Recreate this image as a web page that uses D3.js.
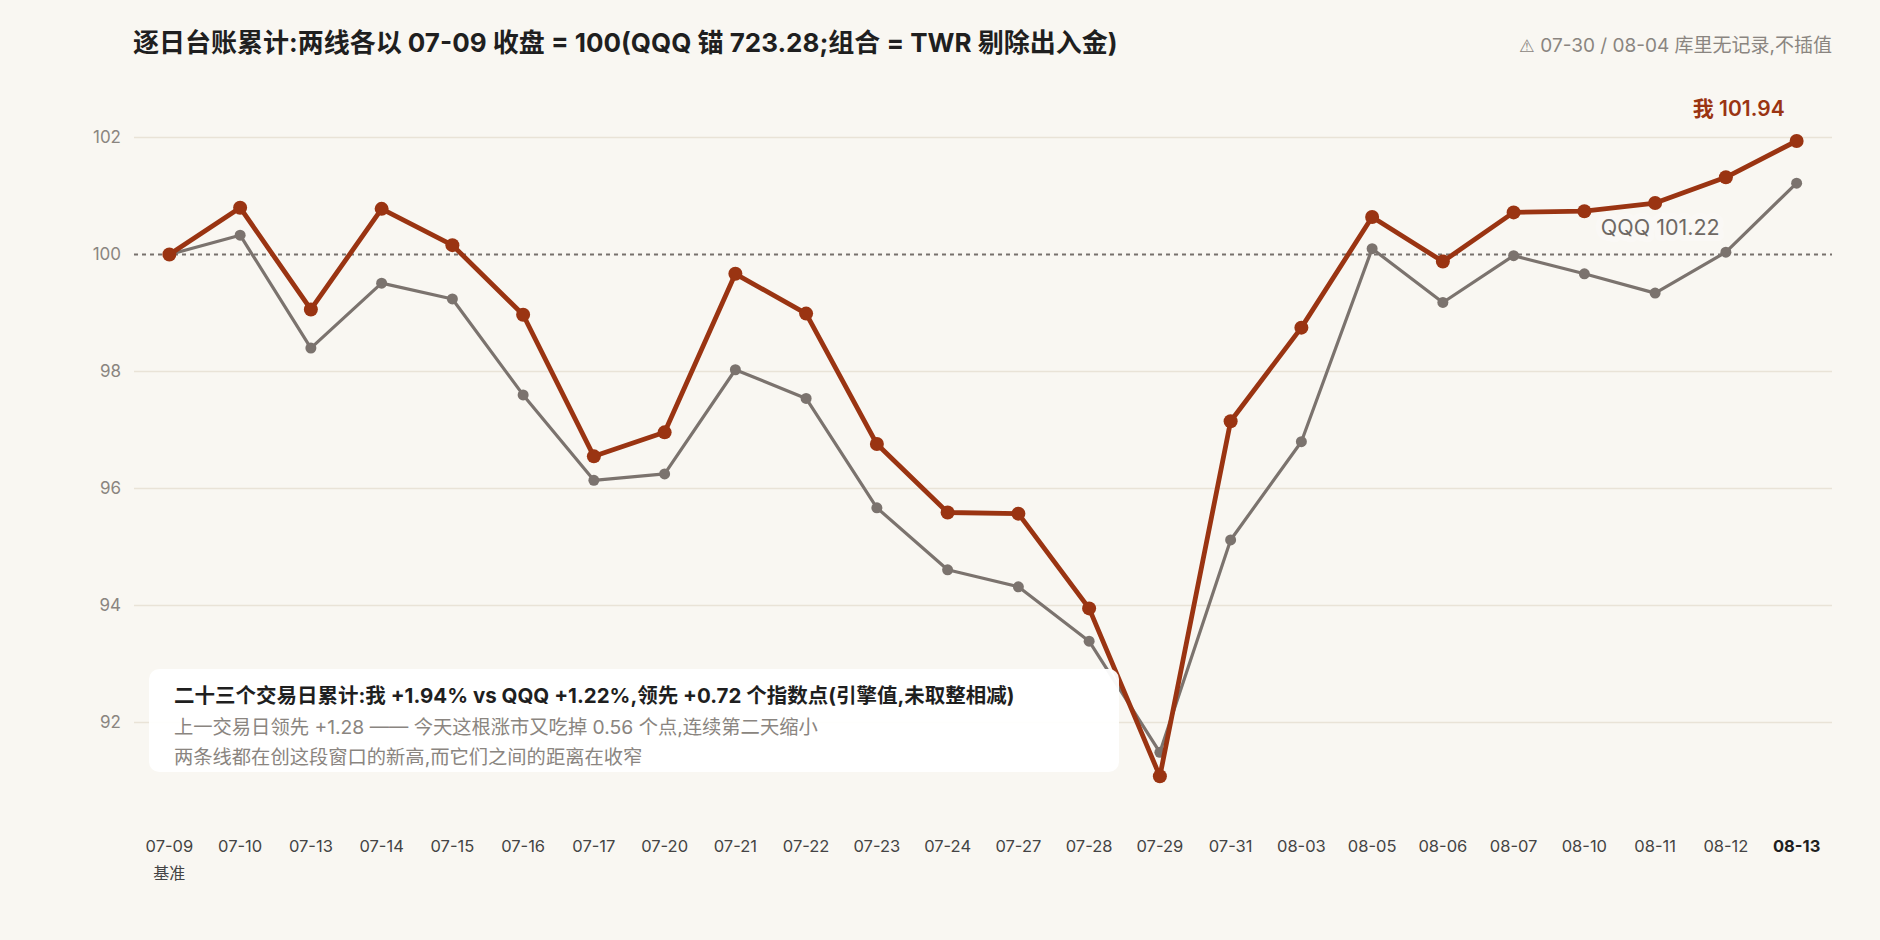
<!DOCTYPE html>
<html>
<head>
<meta charset="utf-8">
<script src="https://cdn.jsdelivr.net/npm/d3@7"></script>
<style>
  html, body { margin: 0; padding: 0; background: #f9f7f2; }
  svg { display: block; font-family: Inter, "Noto Sans CJK SC", sans-serif; }
</style>
</head>
<body>
<div id="main"></div>
<script>
const dates = ["07-09", "07-10", "07-13", "07-14", "07-15", "07-16", "07-17", "07-20",
  "07-21", "07-22", "07-23", "07-24", "07-27", "07-28", "07-29", "07-31", "08-03",
  "08-05", "08-06", "08-07", "08-10", "08-11", "08-12", "08-13"];
const mine = [100, 100.80, 99.06, 100.78, 100.16, 98.97, 96.55, 96.96, 99.67, 98.99,
  96.76, 95.59, 95.57, 93.95, 91.08, 97.15, 98.75, 100.64, 99.88, 100.72, 100.74,
  100.88, 101.32, 101.94];
const qqq = [100, 100.33, 98.40, 99.51, 99.24, 97.60, 96.14, 96.25, 98.03, 97.54,
  95.67, 94.61, 94.32, 93.39, 91.49, 95.12, 96.80, 100.10, 99.18, 99.98, 99.67,
  99.34, 100.04, 101.22];
const yTicks = [92, 94, 96, 98, 100, 102];

const titleText = "逐日台账累计:两线各以 07-09 收盘 = 100(QQQ 锚 723.28;组合 = TWR 剔除出入金)";
const noteText = "07-30 / 08-04 库里无记录,不插值";
const boxLines = [
  "二十三个交易日累计:我 +1.94% vs QQQ +1.22%,领先 +0.72 个指数点(引擎值,未取整相减)",
  "上一交易日领先 +1.28 —— 今天这根涨市又吃掉 0.56 个点,连续第二天缩小",
  "两条线都在创这段窗口的新高,而它们之间的距离在收窄"
];

const width = 1880, height = 940;
const left = 134, right = 1832;
const red = "#9a3412", grey = "#7b736e", bg = "#f9f7f2";

const svg = d3.select("#main").append("svg")
  .attr("width", width).attr("height", height)
  .style("background", bg);

const x = d3.scalePoint().domain(dates).range([left, right]).padding(0.5);
const y = d3.scaleLinear().domain([90, 103]).range([839.5, 79]);

// title + note
svg.append("text").attr("x", 133).attr("y", 52)
  .attr("font-size", 26).attr("font-weight", 700).attr("fill", "#1f1f1f")
  .text(titleText);
const note = svg.append("text").attr("x", right).attr("y", 52).attr("text-anchor", "end")
  .attr("font-size", 19).attr("fill", "#8a8580");
note.append("tspan").attr("font-family", "'DejaVu Sans', sans-serif").attr("font-size", 17.5)
  .text("⚠\uFE0E ");
note.append("tspan").text(noteText);

// grid
svg.append("g").selectAll("line").data(yTicks.filter(d => d !== 100)).join("line")
  .attr("x1", left).attr("x2", right)
  .attr("y1", d => y(d)).attr("y2", d => y(d))
  .attr("stroke", "#e9e3d7").attr("stroke-width", 1.5);
svg.append("line")
  .attr("x1", left).attr("x2", right).attr("y1", y(100)).attr("y2", y(100))
  .attr("stroke", "#77716c").attr("stroke-width", 2).attr("stroke-dasharray", "4,4");

svg.append("g").selectAll("text").data(yTicks).join("text")
  .attr("x", 121).attr("y", d => y(d)).attr("dy", "0.35em")
  .attr("text-anchor", "end").attr("font-size", 17).attr("fill", "#8a8580")
  .text(d => d);

// x labels
svg.append("g").selectAll("text").data(dates).join("text")
  .attr("x", d => x(d)).attr("y", 852).attr("text-anchor", "middle")
  .attr("font-size", 16.5)
  .attr("font-weight", (d, i) => i === dates.length - 1 ? 700 : 400)
  .attr("fill", (d, i) => i === dates.length - 1 ? "#1f1f1f" : "#444")
  .text(d => d);
svg.append("text").attr("x", x(dates[0])).attr("y", 879).attr("text-anchor", "middle")
  .attr("font-size", 16).attr("fill", "#444").text("基准");

// lines
const line = d3.line().x((d, i) => x(dates[i])).y(d => y(d));

svg.append("path").datum(qqq).attr("d", line)
  .attr("fill", "none").attr("stroke", grey).attr("stroke-width", 3.2)
  .attr("stroke-linejoin", "round");
svg.append("g").selectAll("circle").data(qqq).join("circle")
  .attr("cx", (d, i) => x(dates[i])).attr("cy", d => y(d)).attr("r", 5.5)
  .attr("fill", grey);

svg.append("path").datum(mine).attr("d", line)
  .attr("fill", "none").attr("stroke", red).attr("stroke-width", 4.8)
  .attr("stroke-linejoin", "round");
svg.append("g").selectAll("circle").data(mine).join("circle")
  .attr("cx", (d, i) => x(dates[i])).attr("cy", d => y(d)).attr("r", 7)
  .attr("fill", red);

// end labels
const last = dates.length - 1;
svg.append("text")
  .attr("x", x(dates[last]) - 12).attr("y", y(mine[last]) - 25)
  .attr("text-anchor", "end").attr("font-size", 21).attr("font-weight", 600)
  .attr("fill", red).text("我 " + mine[last].toFixed(2));
svg.append("text")
  .attr("x", x(dates[last]) - 77).attr("y", y(qqq[last]) + 52)
  .attr("text-anchor", "end").attr("font-size", 21.5).attr("fill", "#6e6864")
  .attr("stroke", "#fbf9f6").attr("stroke-width", 12).attr("stroke-opacity", 0.9)
  .attr("paint-order", "stroke").attr("stroke-linejoin", "round")
  .text("QQQ " + qqq[last].toFixed(2));

// annotation box
const box = svg.append("g").attr("transform", "translate(149,669)");
box.append("rect").attr("width", 970).attr("height", 103).attr("rx", 10)
  .attr("fill", "#ffffff").attr("fill-opacity", 0.95);
box.selectAll("text").data(boxLines).join("text")
  .attr("x", 25).attr("y", (d, i) => [34, 65, 95][i])
  .attr("font-size", (d, i) => i === 0 ? 20.5 : 19.3)
  .attr("font-weight", (d, i) => i === 0 ? 700 : 400)
  .attr("fill", (d, i) => i === 0 ? "#1f1f1f" : "#8a8580")
  .text(d => d);
</script>
</body>
</html>
